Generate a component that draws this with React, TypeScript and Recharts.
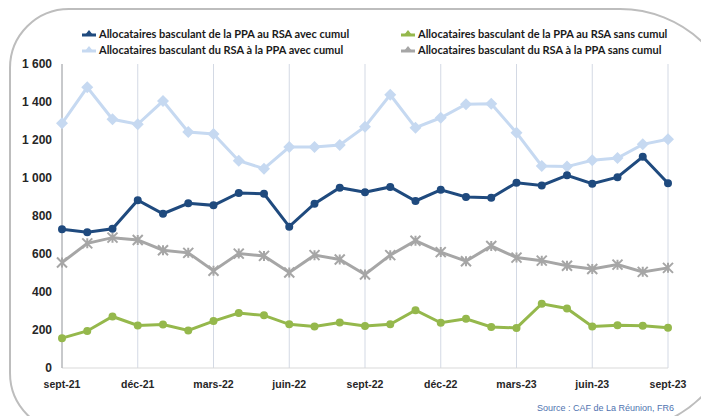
import React from "react";
import { LineChart, Line, XAxis, YAxis, CartesianGrid } from "recharts";

const months = [
	"sept-21", "oct-21", "nov-21", "déc-21", "janv-22", "févr-22", "mars-22",
	"avr-22", "mai-22", "juin-22", "juil-22", "août-22", "sept-22", "oct-22",
	"nov-22", "déc-22", "janv-23", "févr-23", "mars-23", "avr-23", "mai-23",
	"juin-23", "juil-23", "août-23", "sept-23",
];

const quarterTicks = ["sept-21", "déc-21", "mars-22", "juin-22", "sept-22", "déc-22", "mars-23", "juin-23", "sept-23"];
const yTicks = [0, 200, 400, 600, 800, 1000, 1200, 1400, 1600];

// PPA -> RSA avec cumul
const ppaRsaAvec = [730, 714, 733, 883, 812, 867, 856, 921, 917, 744, 865, 949, 925, 953, 879, 938, 900, 896, 975, 961, 1014, 970, 1004, 1112, 972];
// PPA -> RSA sans cumul
const ppaRsaSans = [157, 195, 271, 224, 229, 198, 247, 289, 277, 230, 219, 239, 221, 230, 304, 238, 259, 216, 211, 338, 313, 219, 225, 222, 212];
// RSA -> PPA avec cumul
const rsaPpaAvec = [1288, 1477, 1309, 1283, 1405, 1242, 1232, 1091, 1049, 1163, 1163, 1174, 1270, 1438, 1265, 1317, 1388, 1391, 1238, 1063, 1060, 1093, 1105, 1177, 1204];
// RSA -> PPA sans cumul
const rsaPpaSans = [555, 656, 686, 674, 620, 606, 512, 602, 590, 503, 594, 571, 492, 594, 670, 610, 562, 642, 581, 565, 538, 521, 544, 506, 527];

const data = months.map((m, i) => ({
	month: m,
	ppaRsaAvec: ppaRsaAvec[i],
	ppaRsaSans: ppaRsaSans[i],
	rsaPpaAvec: rsaPpaAvec[i],
	rsaPpaSans: rsaPpaSans[i],
}));

const DARK = "#1f4a7e";
const LIGHT = "#c6d9f1";
const GREEN = "#95b84c";
const GRAY = "#a6a6a6";

const fmt = (v: number) => String(v).replace(/\B(?=(\d{3})+(?!\d))/g, " ");

const Diamond = (props: any) => {
	const { cx, cy } = props;
	if (cx == null || cy == null) return null;
	const s = 6;
	return <path d={`M${cx},${cy - s}L${cx + s},${cy}L${cx},${cy + s}L${cx - s},${cy}Z`} fill={LIGHT} />;
};

const Star = (props: any) => {
	const { cx, cy } = props;
	if (cx == null || cy == null) return null;
	const s = 5;
	return (
		<path
			d={`M${cx - s},${cy - s}L${cx + s},${cy + s}M${cx - s},${cy + s}L${cx + s},${cy - s}M${cx},${cy - s}L${cx},${cy + s}`}
			stroke={GRAY}
			strokeWidth={2}
			fill="none"
		/>
	);
};

const legendItems = [
	{ label: "Allocataires basculant de la PPA au RSA avec cumul", color: DARK, x: 82, y: 27 },
	{ label: "Allocataires basculant de la PPA au RSA sans cumul", color: GREEN, x: 401, y: 27 },
	{ label: "Allocataires basculant du RSA à la PPA avec cumul", color: LIGHT, x: 82, y: 43 },
	{ label: "Allocataires basculant du RSA à la PPA sans cumul", color: GRAY, x: 401, y: 43 },
];

export default function App() {
	return (
		<div style={{ position: "fixed", left: 0, top: 0, width: 701, height: 416, overflow: "hidden", background: "#fff" }}>
			<div
				style={{
					position: "absolute",
					left: 9,
					top: 8,
					width: 731,
					height: 425,
					border: "2px solid #bdbdbd",
					borderRadius: "60px 120px 125px 60px",
					boxSizing: "border-box",
				}}
			/>
			{legendItems.map((it) => (
				<div
					key={it.label}
					style={{
						position: "absolute",
						left: it.x,
						top: it.y,
						display: "flex",
						alignItems: "center",
						fontFamily: "Lato, 'Liberation Sans', sans-serif",
						fontWeight: 700,
						fontSize: 11,
						color: "#1a1a1a",
						whiteSpace: "nowrap",
					}}
				>
					<svg width={14} height={12} style={{ marginRight: 3 }}>
						<line x1={0} y1={7} x2={14} y2={7} stroke={it.color} strokeWidth={3} />
						<path d="M7,2L11,7L3,7Z" fill={it.color} />
					</svg>
					{it.label}
				</div>
			))}
			<div
				style={{
					position: "absolute",
					left: 537,
					top: 403,
					fontFamily: "'Liberation Sans', Arial, sans-serif",
					fontSize: 9,
					lineHeight: "11px",
					color: "#4f73b0",
					whiteSpace: "nowrap",
				}}
			>
				Source : CAF de La Réunion, FR6
			</div>
			<div style={{ position: "absolute", left: 0, top: 0 }}>
				<LineChart width={701} height={416} data={data} margin={{ top: 64, right: 33, bottom: 18, left: 0 }}>
					<CartesianGrid horizontal={false} vertical stroke="#d3d9e4" />
					<XAxis
						dataKey="month"
						ticks={quarterTicks}
						interval={0}
						height={30}
						tickLine={false}
						tickSize={0}
						tickMargin={13}
						axisLine={{ stroke: "#d9d9d9" }}
						tick={{ fill: "#262626", fontSize: 10.5, fontWeight: 700, fontFamily: "'Liberation Sans', Arial, sans-serif" }}
					/>
					<YAxis
						width={62}
						domain={[0, 1600]}
						ticks={yTicks}
						tickFormatter={fmt}
						tickLine={false}
						tickSize={0}
						tickMargin={10}
						axisLine={{ stroke: "#a6a6a6" }}
						tick={{ fill: "#262626", fontSize: 12, fontWeight: 700, fontFamily: "'Liberation Sans', Arial, sans-serif" }}
					/>
					<Line dataKey="rsaPpaAvec" stroke={LIGHT} strokeWidth={3} dot={<Diamond />} isAnimationActive={false} />
					<Line dataKey="rsaPpaSans" stroke={GRAY} strokeWidth={3} dot={<Star />} isAnimationActive={false} />
					<Line dataKey="ppaRsaSans" stroke={GREEN} strokeWidth={3} dot={{ r: 2.5, fill: GREEN, stroke: GREEN }} isAnimationActive={false} />
					<Line dataKey="ppaRsaAvec" stroke={DARK} strokeWidth={3} dot={{ r: 2.5, fill: DARK, stroke: DARK }} isAnimationActive={false} />
				</LineChart>
			</div>
		</div>
	);
}
